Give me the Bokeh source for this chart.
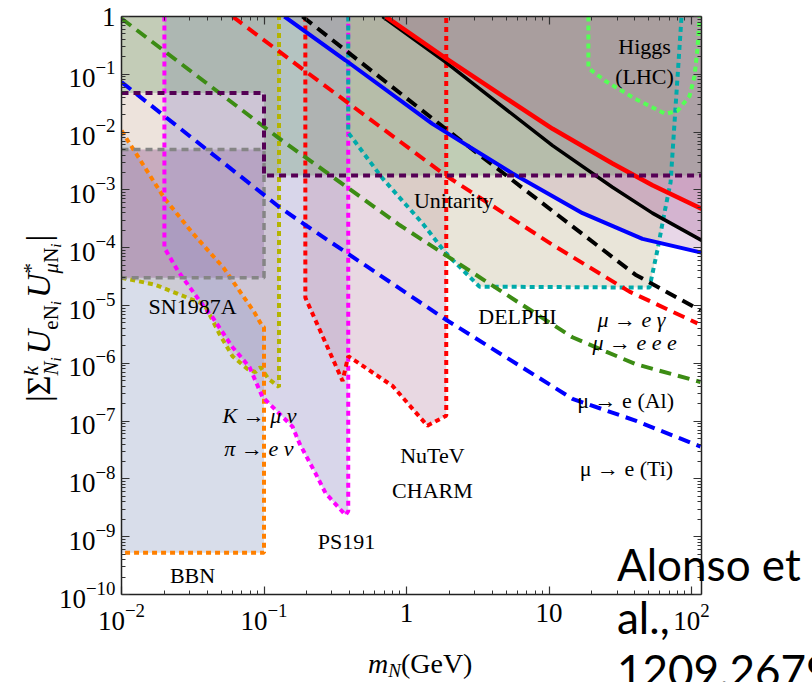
import numpy as np
from bokeh.plotting import figure
from bokeh.models import Range1d, LogAxis, FixedTicker, LogTickFormatter, Label, Div
from bokeh.layouts import column
from bokeh.embed import file_html
from bokeh.resources import INLINE

# ---------------- data (m_N in GeV, |sum U_e U_mu*|) ----------------
# present bounds (solid)
mue_now_m = [0.139, 0.373, 1.52, 5.55, 17.2, 45.3, 119.5]
mue_now_u = [1.0, 0.175, 0.0139, 0.00193, 3.96e-4, 1.42e-4, 8.14e-5]
meee_now_m = [0.679, 1.88, 3.70, 10.6, 27.9, 53.2, 119.5]
meee_now_u = [1.0, 0.162, 0.0440, 0.00583, 0.00111, 3.96e-4, 1.31e-4]
meg_now_m = [0.713, 1.88, 4.49, 10.6, 27.9, 53.2, 119.5]
meg_now_u = [1.0, 0.190, 0.0457, 0.0114, 0.00287, 0.00120, 4.64e-4]
# future sensitivities (dashed)
meg_fut_m = [0.186, 1.88, 14.2, 40.4, 115.6]
meg_fut_u = [1.0, 0.0114, 2.47e-4, 3.41e-5, 8.20e-6]
meee_fut_m = [0.0601, 0.195, 1.88, 10.6, 36.7, 110.0]
meee_fut_u = [1.0, 0.1135, 0.00178, 1.12e-4, 1.74e-5, 4.91e-6]
al_fut_m = [0.01, 0.1285, 0.893, 3.82, 14.6, 40.4, 115.6]
al_fut_u = [0.924, 0.00771, 2.47e-4, 2.39e-5, 2.82e-6, 9.69e-7, 4.75e-7]
ti_fut_m = [0.01, 0.1285, 0.195, 1.88, 14.6, 40.4, 115.6]
ti_fut_u = [0.0734, 5.02e-4, 2.47e-4, 5.74e-6, 2.43e-7, 1.02e-7, 3.63e-8]

# excluded regions
kpi_m = [0.01, 0.01, 0.0171, 0.0382, 0.0488, 0.0601, 0.0766, 0.0871, 0.0944, 0.1076, 0.1274, 0.1274]
kpi_u = [1.0, 3.03e-5, 2.30e-5, 1.04e-5, 3.18e-6, 1.33e-6, 7.94e-7, 7.06e-7, 8.61e-7, 5.36e-7, 3.90e-7, 1.0]
bbn_m = [0.01, 0.02, 0.0315, 0.052, 0.0857, 0.0975, 0.1, 0.1, 0.01]
bbn_u = [0.0106, 7.18e-4, 1.80e-4, 4.50e-5, 7.58e-6, 4.36e-6, 4.2e-6, 5.27e-10, 5.27e-10]
ps191_m = [0.02, 0.02, 0.0251, 0.0382, 0.0436, 0.0601, 0.0791, 0.0975, 0.1585, 0.1775, 0.2297, 0.2704, 0.3733, 0.39, 0.39]
ps191_u = [1.0, 9.93e-5, 3.84e-5, 9.25e-6, 6.22e-6, 1.90e-6, 8.61e-7, 2.62e-7, 8.02e-8, 4.09e-8, 1.25e-8, 5.66e-9, 2.37e-9, 2.77e-9, 1.0]
charm_m = [0.195, 0.195, 0.356, 0.39, 0.798, 1.40, 1.90, 1.90]
charm_u = [1.0, 1.37e-5, 4.95e-7, 1.33e-6, 4.06e-7, 8.34e-8, 1.24e-7, 1.0]
delphi_m = [0.39, 0.39, 0.679, 1.29, 1.88, 3.25, 50.7, 57.7, 64.7, 71.3, 85.1]
delphi_u = [1.0, 0.00977, 0.00158, 2.67e-4, 8.14e-5, 2.12e-5, 2.04e-5, 9.17e-5, 4.12e-4, 0.00135, 1.0]
higgs_m = [18.9, 18.9, 24.9, 40.4, 65.7, 79.8, 96.9, 105.0, 110.0, 113.8]
higgs_u = [1.0, 0.128, 0.0764, 0.0375, 0.0207, 0.0233, 0.0422, 0.0931, 0.271, 1.0]
sn_m = [0.01, 0.1, 0.1, 0.01]
sn_u = [0.005, 0.005, 3.03e-5, 3.03e-5]
unit_m = [0.01, 0.1, 0.1, 117.5]
unit_u = [0.0475, 0.0475, 0.00178, 0.00178]

# axis ticks
x_ticks = [0.01, 0.1, 1, 10, 100]
y_ticks = [1e-10, 1e-9, 1e-8, 1e-7, 1e-6, 1e-5, 1e-4, 1e-3, 1e-2, 1e-1, 1]
x_label_over = {1: "1", "1": "1", 10: "10", "10": "10"}
y_label_over = {1: "1", "1": "1"}

# region labels: text, m, U, align, style
region_labels = [
    ("Higgs", 46.8, 0.305, "center", "normal"),
    ("(LHC)", 46.8, 0.093, "center", "normal"),
    ("Unitarity", 2.14, 6.6e-4, "center", "normal"),
    ("SN1987A", 0.0315, 9.6e-6, "center", "normal"),
    ("DELPHI", 6.0, 6.5e-6, "center", "normal"),
    ("NuTeV", 1.52, 2.5e-8, "center", "normal"),
    ("CHARM", 1.52, 6.4e-9, "center", "normal"),
    ("PS191", 0.379, 8.1e-10, "center", "normal"),
    ("BBN", 0.0315, 2.1e-10, "center", "normal"),
    ("K  →  μ ν", 0.0511, 1.24e-7, "left", "italic"),
    ("π  →  e ν", 0.0527, 3.36e-8, "left", "italic"),
    ("μ  →  e γ", 21.9, 5.7e-6, "left", "italic"),
    ("μ  →  e e e", 20.2, 2.3e-6, "left", "italic"),
    ("μ  →  e (Al)", 15.8, 2.24e-7, "left", "normal"),
    ("μ  →  e (Ti)", 16.4, 1.52e-8, "left", "normal"),
]

SERIF = "Liberation Serif"

p = figure(x_axis_type="log", y_axis_type="log",
           x_range=Range1d(0.01, 117.5), y_range=Range1d(1e-10, 1),
           frame_width=580, frame_height=578,
           min_border_left=121, min_border_right=95, min_border_top=16, min_border_bottom=72,
           output_backend="svg", toolbar_location=None)
p.grid.visible = False
p.outline_line_color = None
p.background_fill_color = "white"
p.border_fill_color = "white"

xt = FixedTicker(ticks=x_ticks, minor_ticks=[k * 10.0 ** e for e in range(-2, 3) for k in range(2, 10)])
yt = FixedTicker(ticks=y_ticks, minor_ticks=[k * 10.0 ** e for e in range(-10, 0) for k in range(2, 10)])

bottom = p.below[0]
left = p.left[0]
bottom.ticker = xt
left.ticker = yt
bottom.formatter = LogTickFormatter()
left.formatter = LogTickFormatter()
bottom.major_label_overrides = x_label_over
left.major_label_overrides = y_label_over

top = LogAxis(ticker=xt)
right = LogAxis(ticker=yt)
p.add_layout(top, "above")
p.add_layout(right, "right")

for ax in [bottom, left, top, right]:
    ax.major_tick_in = 8
    ax.major_tick_out = 0
    ax.minor_tick_in = 4
    ax.minor_tick_out = 0
    ax.axis_line_width = 1.5
    ax.axis_line_color = "#222222"
    ax.major_tick_line_color = "#333333"
    ax.minor_tick_line_color = "#333333"
    ax.major_tick_line_width = 1.2
    ax.minor_tick_line_width = 1.0
    ax.major_label_text_font = SERIF
    ax.major_label_text_font_size = "27px"
    ax.major_label_text_color = "black"
for ax in [top, right]:
    ax.major_label_text_font_size = "8px"
    ax.major_label_text_alpha = 0
    ax.major_label_standoff = 0
bottom.major_label_standoff = 9
left.major_label_standoff = 6

# fills
p.patch(mue_now_m + [mue_now_m[-1]], mue_now_u + [1.0], fill_color=(198, 155, 198), fill_alpha=0.4, line_color=None)
p.patch(kpi_m, kpi_u, fill_color=(210, 185, 167), fill_alpha=0.4, line_color=None)
p.patch(bbn_m, bbn_u, fill_color=(157, 170, 202), fill_alpha=0.4, line_color=None)
p.patch(sn_m, sn_u, fill_color=(156, 105, 153), fill_alpha=0.45, line_color=None)
p.patch(ps191_m, ps191_u, fill_color=(157, 152, 202), fill_alpha=0.4, line_color=None)
p.patch(charm_m, charm_u, fill_color=(198, 157, 183), fill_alpha=0.4, line_color=None)
p.patch(delphi_m, delphi_u, fill_color=(200, 190, 160), fill_alpha=0.4, line_color=None)
p.patch(meee_now_m + [meee_now_m[-1]], meee_now_u + [1.0], fill_color=(182, 127, 172), fill_alpha=0.4, line_color=None)
p.patch(meg_now_m + [meg_now_m[-1]], meg_now_u + [1.0], fill_color=(189, 130, 165), fill_alpha=0.3, line_color=None)
p.patch(unit_m + [117.5, 0.01], unit_u + [1.0, 1.0], fill_color=(105, 155, 105), fill_alpha=0.32, line_color=None)

# region borders
DOT = "5 4"
p.line(kpi_m[1:], kpi_u[1:], line_color="#b4b400", line_width=4, line_dash=DOT)
p.line(bbn_m, bbn_u, line_color="#ff8000", line_width=4, line_dash=DOT)
p.line(ps191_m, ps191_u, line_color="#ff00ff", line_width=4, line_dash=DOT)
p.line(charm_m, charm_u, line_color="#ff0000", line_width=4, line_dash=DOT)
p.line(delphi_m, delphi_u, line_color="#00aaaa", line_width=4, line_dash=DOT)
p.line(higgs_m, higgs_u, line_color="#55ff55", line_width=4, line_dash=DOT)
p.line(sn_m, sn_u, line_color="#858585", line_width=3.5, line_dash="7 5")

# future sensitivities (dashed)
DASH = "12 7"
p.line(al_fut_m, al_fut_u, line_color="#3c8c14", line_width=4, line_dash=DASH)
p.line(ti_fut_m, ti_fut_u, line_color="#0000ff", line_width=4, line_dash=DASH)
p.line(meee_fut_m, meee_fut_u, line_color="#ff0000", line_width=4, line_dash=DASH)
p.line(meg_fut_m, meg_fut_u, line_color="#000000", line_width=4, line_dash=DASH)

# present bounds (solid)
p.line(mue_now_m, mue_now_u, line_color="#0000ff", line_width=4)
p.line(meee_now_m, meee_now_u, line_color="#000000", line_width=3.5)
p.line(meg_now_m, meg_now_u, line_color="#ff0000", line_width=4.5)

# unitarity border
p.line(unit_m, unit_u, line_color="#550055", line_width=4, line_dash="7 5")

# region labels
for txt, xm, yu, al, st in region_labels:
    p.add_layout(Label(x=xm, y=yu, text=txt, text_align=al, text_baseline="alphabetic",
                       text_font=SERIF, text_font_size="22px", text_font_style=st, text_color="black"))


# texts outside the frame: HTML overlays (page pixel positions)
def overlay(html, px, py, extra):
    st = {"position": "absolute", "left": f"{px}px", "top": f"{py}px",
          "white-space": "nowrap", "color": "black", "z-index": "10"}
    st.update(extra)
    return Div(text=html, styles=st)


ii = "<span style='font-size:15px;position:relative;top:3px'><i>i</i></span>"
stack = "<span style='display:inline-block;vertical-align:-8px;line-height:20px;font-size:21px;'>"
ylabel_html = (
    "|&Sigma;" + stack + "<i>k</i><br><i>N</i>" + ii + "</span>"
    "<span style='margin-left:3px'><i>U</i></span>"
    "<span style='font-size:21px;position:relative;top:8px'>eN" + ii + "</span>"
    "<span style='margin-left:3px'><i>U</i></span>"
    + stack + "*<br><i>&mu;</i>N" + ii + "</span>"
    "<span style='margin-left:2px'>|</span>"
)
ylab = overlay(ylabel_html, 12, 397, {"font-family": SERIF, "font-size": "34px", "line-height": "44px",
                                       "transform": "rotate(-90deg)", "transform-origin": "0 0"})
xlab = overlay("<i>m</i><span style='position:relative;top:4px;font-size:19px;'><i>N</i></span>(GeV)", 363, 645,
               {"font-family": SERIF, "font-size": "28px", "line-height": "28px"})
ref = overlay("Alonso et<br>al.,<br>1209.2679", 612, 533,
              {"font-family": "Lato", "font-size": "44px", "line-height": "53px",
               "width": "199px", "height": "148px", "overflow": "hidden"})

layout = column(p, ylab, xlab, ref)
open("out.html", "w").write(file_html(layout, INLINE))
